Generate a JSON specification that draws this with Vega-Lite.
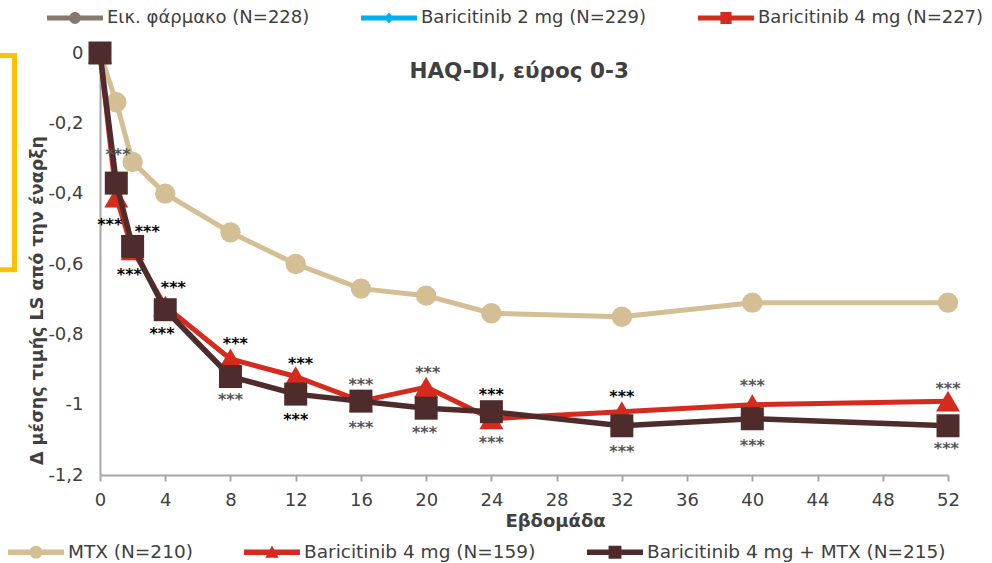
{
  "$schema": "https://vega.github.io/schema/vega-lite/v6.json",
  "width": 848,
  "height": 422,
  "autosize": {"type": "none"},
  "padding": {"left": 100, "top": 53, "right": 44, "bottom": 88},
  "background": "white",
  "config": {
    "font": "DejaVu Sans",
    "view": {"stroke": null},
    "axis": {
      "grid": false,
      "domainColor": "#a6a6a6",
      "domainWidth": 2,
      "tickColor": "#a6a6a6",
      "tickWidth": 2,
      "labelColor": "#404040",
      "labelFont": "DejaVu Sans",
      "labelFontSize": 18,
      "titleColor": "#404040",
      "titleFont": "DejaVu Sans",
      "titleFontWeight": "bold"
    }
  },
  "datasets": {
    "topLegend": [
      {"series": "Εικ. φάρμακο (N=228)"},
      {"series": "Baricitinib 2 mg (N=229)"},
      {"series": "Baricitinib 4 mg (N=227)"}
    ],
    "series": [
      {"series": "MTX (N=210)", "week": 0, "value": 0},
      {"series": "MTX (N=210)", "week": 1, "value": -0.14},
      {"series": "MTX (N=210)", "week": 2, "value": -0.31},
      {"series": "MTX (N=210)", "week": 4, "value": -0.40},
      {"series": "MTX (N=210)", "week": 8, "value": -0.51},
      {"series": "MTX (N=210)", "week": 12, "value": -0.60},
      {"series": "MTX (N=210)", "week": 16, "value": -0.67},
      {"series": "MTX (N=210)", "week": 20, "value": -0.69},
      {"series": "MTX (N=210)", "week": 24, "value": -0.74},
      {"series": "MTX (N=210)", "week": 32, "value": -0.75},
      {"series": "MTX (N=210)", "week": 40, "value": -0.71},
      {"series": "MTX (N=210)", "week": 52, "value": -0.71},
      {"series": "Baricitinib 4 mg (N=159)", "week": 0, "value": 0},
      {"series": "Baricitinib 4 mg (N=159)", "week": 1, "value": -0.41},
      {"series": "Baricitinib 4 mg (N=159)", "week": 2, "value": -0.56},
      {"series": "Baricitinib 4 mg (N=159)", "week": 4, "value": -0.72},
      {"series": "Baricitinib 4 mg (N=159)", "week": 8, "value": -0.87},
      {"series": "Baricitinib 4 mg (N=159)", "week": 12, "value": -0.92},
      {"series": "Baricitinib 4 mg (N=159)", "week": 16, "value": -0.99},
      {"series": "Baricitinib 4 mg (N=159)", "week": 20, "value": -0.95},
      {"series": "Baricitinib 4 mg (N=159)", "week": 24, "value": -1.04},
      {"series": "Baricitinib 4 mg (N=159)", "week": 32, "value": -1.02},
      {"series": "Baricitinib 4 mg (N=159)", "week": 40, "value": -1.0},
      {"series": "Baricitinib 4 mg (N=159)", "week": 52, "value": -0.99},
      {"series": "Baricitinib 4 mg + MTX (N=215)", "week": 0, "value": 0},
      {"series": "Baricitinib 4 mg + MTX (N=215)", "week": 1, "value": -0.37},
      {"series": "Baricitinib 4 mg + MTX (N=215)", "week": 2, "value": -0.55},
      {"series": "Baricitinib 4 mg + MTX (N=215)", "week": 4, "value": -0.73},
      {"series": "Baricitinib 4 mg + MTX (N=215)", "week": 8, "value": -0.92},
      {"series": "Baricitinib 4 mg + MTX (N=215)", "week": 12, "value": -0.97},
      {"series": "Baricitinib 4 mg + MTX (N=215)", "week": 16, "value": -0.99},
      {"series": "Baricitinib 4 mg + MTX (N=215)", "week": 20, "value": -1.01},
      {"series": "Baricitinib 4 mg + MTX (N=215)", "week": 24, "value": -1.02},
      {"series": "Baricitinib 4 mg + MTX (N=215)", "week": 32, "value": -1.06},
      {"series": "Baricitinib 4 mg + MTX (N=215)", "week": 40, "value": -1.04},
      {"series": "Baricitinib 4 mg + MTX (N=215)", "week": 52, "value": -1.06}
    ],
    "stars": [
      {"week": 1.1, "value": -0.276, "tone": "grey", "label": "***"},
      {"week": 0.6, "value": -0.475, "tone": "black", "label": "***"},
      {"week": 2.9, "value": -0.495, "tone": "black", "label": "***"},
      {"week": 1.8, "value": -0.617, "tone": "black", "label": "***"},
      {"week": 4.5, "value": -0.654, "tone": "black", "label": "***"},
      {"week": 3.8, "value": -0.785, "tone": "black", "label": "***"},
      {"week": 8.3, "value": -0.813, "tone": "black", "label": "***"},
      {"week": 8.0, "value": -0.973, "tone": "grey", "label": "***"},
      {"week": 12.3, "value": -0.870, "tone": "black", "label": "***"},
      {"week": 12.0, "value": -1.029, "tone": "black", "label": "***"},
      {"week": 16, "value": -0.930, "tone": "grey", "label": "***"},
      {"week": 16, "value": -1.052, "tone": "grey", "label": "***"},
      {"week": 20.1, "value": -0.896, "tone": "grey", "label": "***"},
      {"week": 19.9, "value": -1.066, "tone": "grey", "label": "***"},
      {"week": 24, "value": -0.958, "tone": "black", "label": "***"},
      {"week": 24, "value": -1.095, "tone": "grey", "label": "***"},
      {"week": 32, "value": -0.964, "tone": "black", "label": "***"},
      {"week": 32, "value": -1.121, "tone": "grey", "label": "***"},
      {"week": 40, "value": -0.933, "tone": "grey", "label": "***"},
      {"week": 40, "value": -1.103, "tone": "grey", "label": "***"},
      {"week": 52, "value": -0.941, "tone": "grey", "label": "***"},
      {"week": 51.9, "value": -1.112, "tone": "grey", "label": "***"}
    ],
    "heading": [
      {"week": 25.7, "value": -0.054, "label": "HAQ-DI, εύρος 0-3"}
    ],
    "bracket": [
      {"week": -7, "week2": -5.24, "value": -0.007, "value2": -0.616}
    ]
  },
  "resolve": {"scale": {"color": "independent"}},
  "layer": [
    {
      "data": {"name": "topLegend"},
      "mark": {"type": "point", "filled": true, "opacity": 0},
      "encoding": {
        "color": {
          "field": "series",
          "type": "nominal",
          "scale": {
            "domain": ["Εικ. φάρμακο (N=228)", "Baricitinib 2 mg (N=229)", "Baricitinib 4 mg (N=227)"],
            "range": ["#857a71", "#00b0f0", "#d52b1e"]
          },
          "legend": {
            "orient": "none",
            "legendX": -53,
            "legendY": -63,
            "direction": "horizontal",
            "columns": 3,
            "title": null,
            "padding": 0,
            "symbolSize": 3136,
            "labelFont": "DejaVu Sans",
            "labelFontSize": 18,
            "labelColor": "#404040",
            "labelOffset": 4,
            "labelLimit": 600,
            "columnPadding": 51,
            "encode": {
              "symbols": {
                "update": {
                  "shape": {"signal": "datum.value === 'Εικ. φάρμακο (N=228)' ? 'M-1,-0.09L1,-0.09L1,0.09L-1,0.09Z M-0.21,0A0.21,0.21 0 1,1 0.21,0A0.21,0.21 0 1,1 -0.21,0Z' : datum.value === 'Baricitinib 2 mg (N=229)' ? 'M-1,-0.09L1,-0.09L1,0.09L-1,0.09Z M0,-0.2L0.18,0L0,0.2L-0.18,0Z' : 'M-1,-0.09L1,-0.09L1,0.09L-1,0.09Z M-0.2,-0.21L0.2,-0.21L0.2,0.21L-0.2,0.21Z'"},
                  "fill": {"signal": "datum.value === 'Εικ. φάρμακο (N=228)' ? '#857a71' : datum.value === 'Baricitinib 2 mg (N=229)' ? '#00b0f0' : '#d52b1e'"},
                  "stroke": {"value": "transparent"},
                  "strokeWidth": {"value": 0},
                  "opacity": {"value": 1},
                  "size": {"value": 3136}
                }
              }
            }
          }
        }
      }
    },
    {
      "encoding": {
        "x": {
          "field": "week",
          "type": "quantitative",
          "scale": {"domain": [0, 52], "nice": false, "zero": false},
          "axis": {
            "values": [0, 4, 8, 12, 16, 20, 24, 28, 32, 36, 40, 44, 48, 52],
            "format": "d",
            "tickSize": 6,
            "labelPadding": 10,
            "labelFlush": false,
            "labelOverlap": false,
            "title": "Εβδομάδα",
            "titleFontSize": 18,
            "titleX": 455,
            "titleY": 37,
            "titleBaseline": "top"
          }
        },
        "y": {
          "field": "value",
          "type": "quantitative",
          "scale": {"domain": [-1.2, 0], "nice": false, "zero": false},
          "axis": {
            "values": [0, -0.2, -0.4, -0.6, -0.8, -1, -1.2],
            "ticks": false,
            "labelPadding": 17,
            "labelFlush": false,
            "labelOverlap": false,
            "labelExpr": "(datum.value < 0 ? '-' : '') + replace(format(abs(datum.value), '~g'), '.', ',')",
            "title": "Δ μέσης τιμής LS από την έναρξη",
            "titleFontSize": 17.5,
            "titleX": -54,
            "titleY": 247
          }
        }
      },
      "layer": [
        {
          "data": {"name": "bracket"},
          "mark": {"type": "rect", "filled": false, "stroke": "#ffc000", "strokeWidth": 5, "clip": false},
          "encoding": {
            "x2": {"field": "week2"},
            "y2": {"field": "value2"}
          }
        },
        {
          "data": {"name": "series"},
          "transform": [{"filter": "datum.series === 'MTX (N=210)'"}],
          "encoding": {
            "color": {
              "field": "series",
              "type": "nominal",
              "scale": {
                "domain": ["MTX (N=210)", "Baricitinib 4 mg (N=159)", "Baricitinib 4 mg + MTX (N=215)"],
                "range": ["#d4be94", "#d52b1e", "#4e2c2c"]
              },
              "legend": {
                "orient": "none",
                "legendX": -92,
                "legendY": 471,
                "direction": "horizontal",
                "columns": 3,
                "title": null,
                "padding": 0,
                "symbolSize": 3136,
                "labelFont": "DejaVu Sans",
                "labelFontSize": 18.5,
                "labelColor": "#404040",
                "labelOffset": 4,
                "labelLimit": 600,
                "columnPadding": 51,
                "encode": {
                  "symbols": {
                    "update": {
                      "shape": {"signal": "datum.value === 'MTX (N=210)' ? 'M-1,-0.1L1,-0.1L1,0.1L-1,0.1Z M-0.23,0A0.23,0.23 0 1,1 0.23,0A0.23,0.23 0 1,1 -0.23,0Z' : datum.value === 'Baricitinib 4 mg (N=159)' ? 'M-1,-0.1L1,-0.1L1,0.1L-1,0.1Z M0,-0.24L0.24,0.2L-0.24,0.2Z' : 'M-1,-0.1L1,-0.1L1,0.1L-1,0.1Z M-0.23,-0.23L0.23,-0.23L0.23,0.23L-0.23,0.23Z'"},
                      "fill": {"signal": "datum.value === 'MTX (N=210)' ? '#d4be94' : datum.value === 'Baricitinib 4 mg (N=159)' ? '#d52b1e' : '#4e2c2c'"},
                      "stroke": {"value": "transparent"},
                      "strokeWidth": {"value": 0},
                      "opacity": {"value": 1},
                      "size": {"value": 3136}
                    }
                  }
                }
              }
            }
          },
          "layer": [
            {"mark": {"type": "line", "strokeWidth": 5, "strokeJoin": "round", "strokeCap": "round"}},
            {"mark": {"type": "point", "filled": true, "shape": "circle", "size": 415, "opacity": 1}}
          ]
        },
        {
          "data": {"name": "series"},
          "transform": [{"filter": "datum.series === 'Baricitinib 4 mg (N=159)'"}],
          "encoding": {
            "color": {
              "field": "series",
              "type": "nominal",
              "scale": {
                "domain": ["MTX (N=210)", "Baricitinib 4 mg (N=159)", "Baricitinib 4 mg + MTX (N=215)"],
                "range": ["#d4be94", "#d52b1e", "#4e2c2c"]
              }
            }
          },
          "layer": [
            {"mark": {"type": "line", "strokeWidth": 5, "strokeJoin": "round", "strokeCap": "round"}},
            {"mark": {"type": "point", "filled": true, "shape": "triangle-up", "size": 576, "opacity": 1}}
          ]
        },
        {
          "data": {"name": "series"},
          "transform": [{"filter": "datum.series === 'Baricitinib 4 mg + MTX (N=215)'"}],
          "encoding": {
            "color": {
              "field": "series",
              "type": "nominal",
              "scale": {
                "domain": ["MTX (N=210)", "Baricitinib 4 mg (N=159)", "Baricitinib 4 mg + MTX (N=215)"],
                "range": ["#d4be94", "#d52b1e", "#4e2c2c"]
              }
            }
          },
          "layer": [
            {"mark": {"type": "line", "strokeWidth": 5.5, "strokeJoin": "round", "strokeCap": "round"}},
            {"mark": {"type": "point", "filled": true, "shape": "square", "size": 529, "opacity": 1}}
          ]
        },
        {
          "data": {"name": "stars"},
          "transform": [{"filter": "datum.tone === 'grey'"}],
          "mark": {"type": "text", "font": "DejaVu Sans", "fontSize": 16, "fontWeight": "bold", "color": "#555555", "baseline": "middle", "dy": 5},
          "encoding": {"text": {"field": "label"}}
        },
        {
          "data": {"name": "stars"},
          "transform": [{"filter": "datum.tone === 'black'"}],
          "mark": {"type": "text", "font": "DejaVu Sans", "fontSize": 16, "fontWeight": "bold", "color": "#000000", "baseline": "middle", "dy": 5},
          "encoding": {"text": {"field": "label"}}
        },
        {
          "data": {"name": "heading"},
          "mark": {"type": "text", "font": "DejaVu Sans", "fontSize": 21.5, "fontWeight": "bold", "color": "#404040", "baseline": "middle"},
          "encoding": {"text": {"field": "label"}}
        }
      ]
    }
  ]
}
